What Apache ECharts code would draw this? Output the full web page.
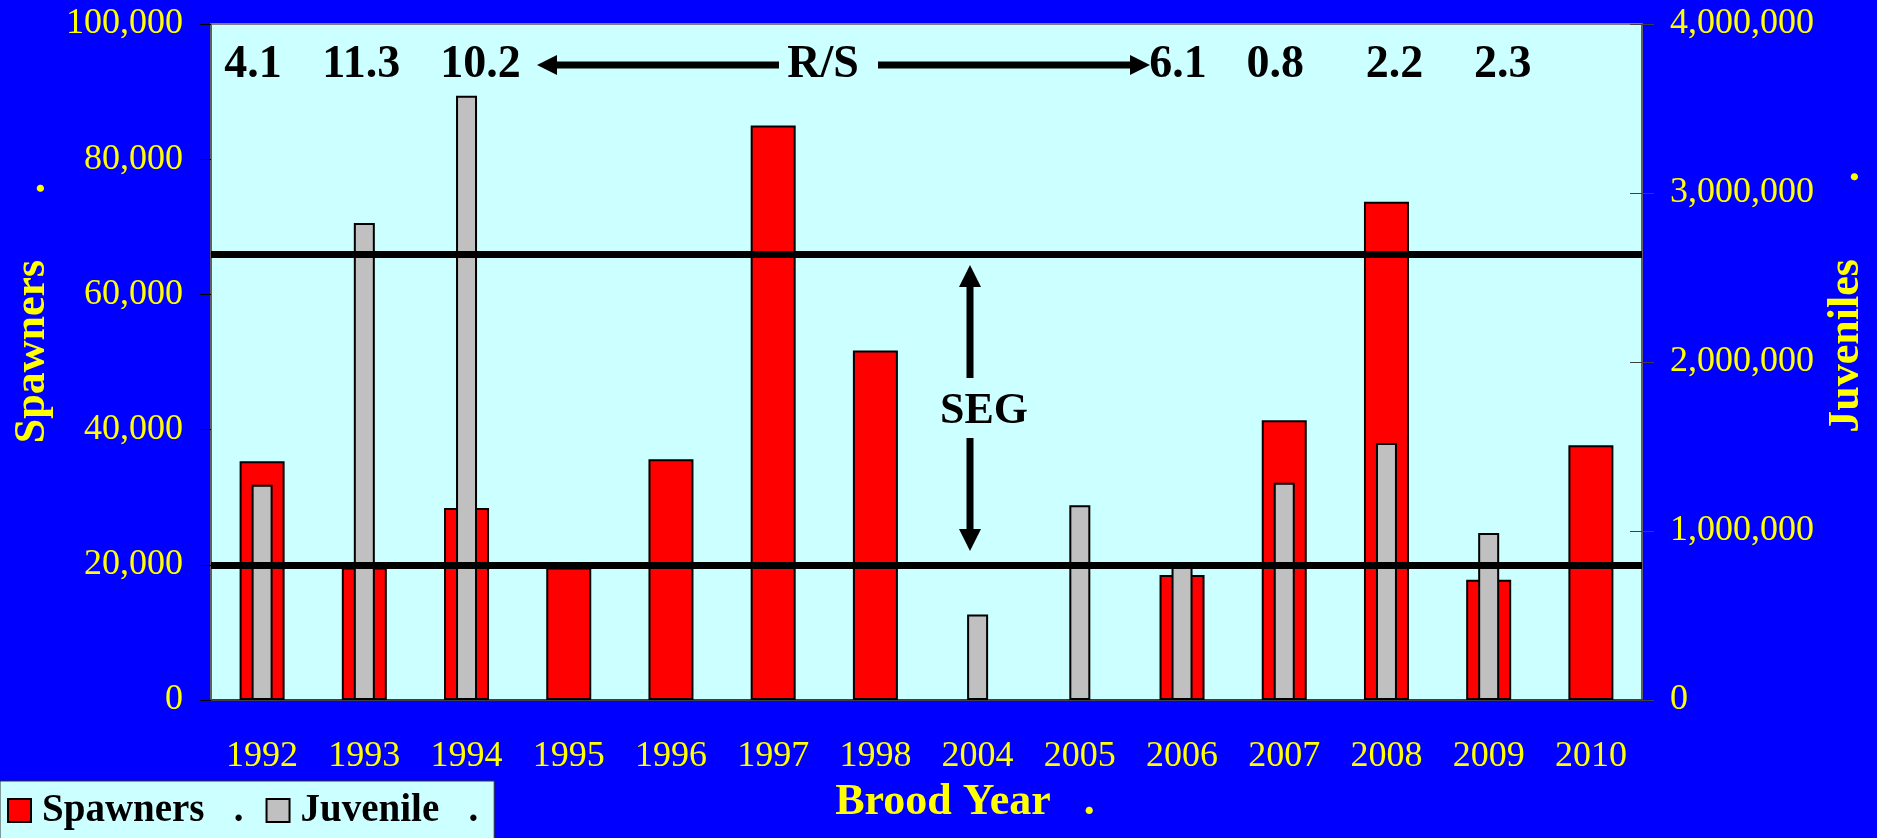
<!DOCTYPE html>
<html>
<head>
<meta charset="utf-8">
<script src="https://cdn.jsdelivr.net/npm/echarts@6/dist/echarts.min.js"></script>
<style>
html,body{margin:0;padding:0;background:#0000FF;}
#chart{width:1877px;height:838px;}
</style>
</head>
<body>
<div id="chart"></div>
<script>
// ---- data ----
const years = ['1992','1993','1994','1995','1996','1997','1998','2004','2005','2006','2007','2008','2009','2010'];
const spawners = [35300, 19600, 28400, 19600, 35600, 85000, 51700, null, null, 18500, 41400, 73700, 17800, 37700];
const juveniles = [1274000, 2823000, 3575000, null, null, null, null, 506000, 1152000, 790000, 1286000, 1521000, 988000, null];
const rsRatios = ['4.1','11.3','10.2',null,null,null,null,null,null,'6.1','0.8','2.2','2.3',null];
const segLower = 20000;
const segUpper = 66000;
const leftAxis = {min: 0, max: 100000, interval: 20000};
const rightAxis = {min: 0, max: 4000000, interval: 1000000};
const spawnerName = 'Spawners   .';
const juvenileName = 'Juvenile   .';

// label nudges (pixels) for the R/S numbers
const rsNudge = [-9,-3,14,0,0,0,0,0,0,-4,-9,8,14,0];

const serif = '"Liberation Serif", "Times New Roman", serif';
const fmt = v => String(v).replace(/\B(?=(\d{3})+(?!\d))/g, ',');

const chart = echarts.init(document.getElementById('chart'));

const rsData = [];
rsRatios.forEach((r, i) => {
  if (r != null) rsData.push({value: [i, 93900, r], label: {offset: [rsNudge[i], 0]}});
});

function arrowHead(tip, dir, len, half) {
  const [x, y] = tip;
  if (dir === 'left') return [[x, y], [x + len, y - half], [x + len, y + half]];
  if (dir === 'right') return [[x, y], [x - len, y - half], [x - len, y + half]];
  if (dir === 'up') return [[x, y], [x - half, y + len], [x + half, y + len]];
  return [[x, y], [x - half, y - len], [x + half, y - len]];
}

const option = {
  animation: false,
  backgroundColor: '#0000FF',
  grid: {left: 211, right: 235, top: 24, bottom: 138, show: true,
         backgroundColor: '#CCFFFF', borderColor: '#808080', borderWidth: 2},
  legend: {
    left: 0, top: 781,
    data: [spawnerName, juvenileName],
    selectedMode: false,
    itemWidth: 23, itemHeight: 23, itemGap: 22,
    padding: [10, 16, 12, 7],
    backgroundColor: '#CCFFFF', borderColor: '#333', borderWidth: 1,
    icon: 'rect',
    textStyle: {fontFamily: serif, fontWeight: 'bold', fontSize: 39, color: '#000', padding: [0,0,0,6]}
  },
  xAxis: [
    {type: 'category', data: years, gridIndex: 0,
     axisLine: {lineStyle: {color: '#404040', width: 2}},
     axisTick: {length: 12, lineStyle: {color: '#000'}},
     axisLabel: {color: '#FFFF00', fontFamily: serif, fontSize: 36, margin: 39},
     splitLine: {show: false}},
    {type: 'category', data: years, gridIndex: 0, show: false}
  ],
  yAxis: [
    {type: 'value', position: 'left', min: leftAxis.min, max: leftAxis.max, interval: leftAxis.interval,
     axisLine: {show: true, lineStyle: {color: '#606060', width: 2}},
     axisTick: {show: true, length: 11, lineStyle: {color: '#000'}},
     axisLabel: {color: '#FFFF00', fontFamily: serif, fontSize: 36, margin: 28, formatter: fmt},
     splitLine: {show: false}},
    {type: 'value', position: 'right', min: rightAxis.min, max: rightAxis.max, interval: rightAxis.interval,
     axisLine: {show: true, lineStyle: {color: '#606060', width: 2}},
     axisTick: {show: true, length: 12, lineStyle: {color: '#404040'}},
     axisLabel: {color: '#FFFF00', fontFamily: serif, fontSize: 36, margin: 28, formatter: fmt},
     splitLine: {show: false}},
    {type: 'value', position: 'right', min: rightAxis.min, max: rightAxis.max, interval: rightAxis.interval,
     axisLine: {show: false},
     axisTick: {show: true, inside: true, length: 12, lineStyle: {color: '#404040'}},
     axisLabel: {show: false},
     splitLine: {show: false}}
  ],
  series: [
    {name: spawnerName, type: 'bar', xAxisIndex: 0, yAxisIndex: 0, data: spawners, barWidth: 45,
     itemStyle: {color: '#FF0000', borderColor: '#000', borderWidth: 2},
     markLine: {silent: true, symbol: 'none', z: 6, label: {show: false},
       lineStyle: {color: '#000', width: 7, type: 'solid'},
       data: [{yAxis: segLower}, {yAxis: segUpper}]}},
    {name: juvenileName, type: 'bar', xAxisIndex: 1, yAxisIndex: 1, data: juveniles, barWidth: 21,
     itemStyle: {color: '#C0C0C0', borderColor: '#000', borderWidth: 2}},
    {name: 'R/S', type: 'scatter', xAxisIndex: 0, yAxisIndex: 0, symbolSize: 0, z: 10,
     itemStyle: {opacity: 1},
     data: rsData,
     label: {show: true, position: 'inside', formatter: p => p.value[2], opacity: 1,
       fontFamily: serif, fontWeight: 'bold', fontSize: 46, color: '#000'}}
  ],
  graphic: [
    // R/S arrows
    {type: 'line', shape: {x1: 555, y1: 65, x2: 779, y2: 65}, style: {stroke: '#000', lineWidth: 7}},
    {type: 'polygon', shape: {points: arrowHead([537, 65], 'left', 20, 10)}, style: {fill: '#000'}},
    {type: 'line', shape: {x1: 878, y1: 65, x2: 1132, y2: 65}, style: {stroke: '#000', lineWidth: 7}},
    {type: 'polygon', shape: {points: arrowHead([1150, 65], 'right', 20, 10)}, style: {fill: '#000'}},
    {type: 'text', x: 823, y: 65, style: {text: 'R/S', fill: '#000', font: 'bold 46px ' + serif,
      textAlign: 'center', textVerticalAlign: 'middle', align: 'center', verticalAlign: 'middle'}},
    // SEG arrows
    {type: 'line', shape: {x1: 970, y1: 285, x2: 970, y2: 378}, style: {stroke: '#000', lineWidth: 7}},
    {type: 'polygon', shape: {points: arrowHead([970, 265], 'up', 22, 11)}, style: {fill: '#000'}},
    {type: 'line', shape: {x1: 970, y1: 438, x2: 970, y2: 531}, style: {stroke: '#000', lineWidth: 7}},
    {type: 'polygon', shape: {points: arrowHead([970, 551], 'down', 22, 11)}, style: {fill: '#000'}},
    {type: 'text', x: 984, y: 412, style: {text: 'SEG', fill: '#000', font: 'bold 44px ' + serif,
      textAlign: 'center', textVerticalAlign: 'middle', align: 'center', verticalAlign: 'middle'}},
    // axis titles
    {type: 'text', x: 33, y: 313, rotation: Math.PI / 2,
     style: {text: 'Spawners      .', fill: '#FFFF00', font: 'bold 44px ' + serif,
      textAlign: 'center', textVerticalAlign: 'middle', align: 'center', verticalAlign: 'middle'}},
    {type: 'text', x: 1847, y: 302, rotation: Math.PI / 2,
     style: {text: 'Juveniles       .', fill: '#FFFF00', font: 'bold 44px ' + serif,
      textAlign: 'center', textVerticalAlign: 'middle', align: 'center', verticalAlign: 'middle'}},
    {type: 'text', x: 965, y: 803,
     style: {text: 'Brood Year   .', fill: '#FFFF00', font: 'bold 44px ' + serif,
      textAlign: 'center', textVerticalAlign: 'middle', align: 'center', verticalAlign: 'middle'}}
  ]
};
chart.setOption(option);
</script>
</body>
</html>
